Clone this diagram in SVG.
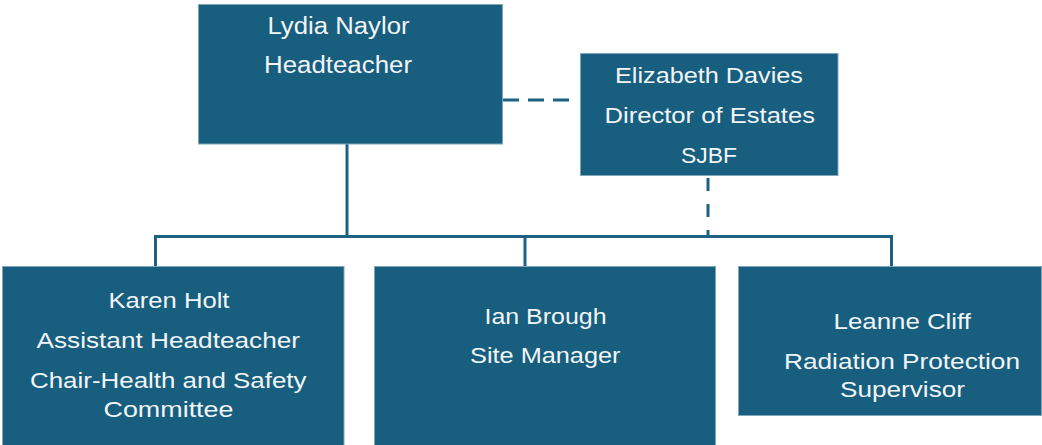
<svg xmlns="http://www.w3.org/2000/svg" width="1042" height="445" viewBox="0 0 1042 445">
<style>
.box{fill:#175e7f;stroke:#7fa6b9;stroke-width:1}
.t{font-family:"Liberation Sans",Arial,sans-serif;font-size:22px;fill:#f2f5f7}
.ln{stroke:#1d6183;stroke-width:3;fill:none}
.dh{stroke:#1d6183;stroke-width:3;fill:none;stroke-dasharray:16 9}
.dv{stroke:#1d6183;stroke-width:3;fill:none;stroke-dasharray:13 13}
</style>
<rect width="1042" height="445" fill="#ffffff"/>
<g id="connectors">
<line class="ln" x1="347" y1="144" x2="347" y2="236.5"/>
<line class="ln" x1="154" y1="236.5" x2="893" y2="236.5"/>
<line class="ln" x1="155.5" y1="236.5" x2="155.5" y2="266.5"/>
<line class="ln" x1="525" y1="236.5" x2="525" y2="266.5"/>
<line class="ln" x1="891.5" y1="236.5" x2="891.5" y2="266.5"/>
<line class="dh" x1="503" y1="100" x2="572" y2="100"/>
<line class="dv" x1="708" y1="178" x2="708" y2="235"/>
</g>
<g id="n-lydia">
<rect class="box" x="198.5" y="4.5" width="304" height="139.5"/>
<text class="t" x="267.5" y="34" textLength="142" lengthAdjust="spacingAndGlyphs" style="font-size:23px">Lydia Naylor</text>
<text class="t" x="264" y="73" textLength="148" lengthAdjust="spacingAndGlyphs" style="font-size:23px">Headteacher</text>
</g>
<g id="n-elizabeth">
<rect class="box" x="580.5" y="53.5" width="257.5" height="122"/>
<text class="t" x="615" y="82.5" textLength="188" lengthAdjust="spacingAndGlyphs">Elizabeth Davies</text>
<text class="t" x="604.5" y="122.5" textLength="210.5" lengthAdjust="spacingAndGlyphs">Director of Estates</text>
<text class="t" x="681" y="162.5" textLength="56" lengthAdjust="spacingAndGlyphs">SJBF</text>
</g>
<g id="n-karen">
<rect class="box" x="2.5" y="266.5" width="341.5" height="185"/>
<text class="t" x="108.5" y="307.5" textLength="121" lengthAdjust="spacingAndGlyphs">Karen Holt</text>
<text class="t" x="36.5" y="347.5" textLength="263.5" lengthAdjust="spacingAndGlyphs">Assistant Headteacher</text>
<text class="t" x="30" y="387.5" textLength="276.5" lengthAdjust="spacingAndGlyphs">Chair-Health and Safety</text>
<text class="t" x="103.5" y="416.5" textLength="130" lengthAdjust="spacingAndGlyphs">Committee</text>
</g>
<g id="n-ian">
<rect class="box" x="374.5" y="266.5" width="341" height="185"/>
<text class="t" x="484.5" y="323.5" textLength="122" lengthAdjust="spacingAndGlyphs">Ian Brough</text>
<text class="t" x="470" y="362.5" textLength="150.5" lengthAdjust="spacingAndGlyphs">Site Manager</text>
</g>
<g id="n-leanne">
<rect class="box" x="738.5" y="266.5" width="303" height="149"/>
<text class="t" x="833.5" y="328.5" textLength="137.5" lengthAdjust="spacingAndGlyphs">Leanne Cliff</text>
<text class="t" x="784" y="368.5" textLength="236" lengthAdjust="spacingAndGlyphs">Radiation Protection</text>
<text class="t" x="840" y="396.5" textLength="125" lengthAdjust="spacingAndGlyphs">Supervisor</text>
</g>
</svg>
